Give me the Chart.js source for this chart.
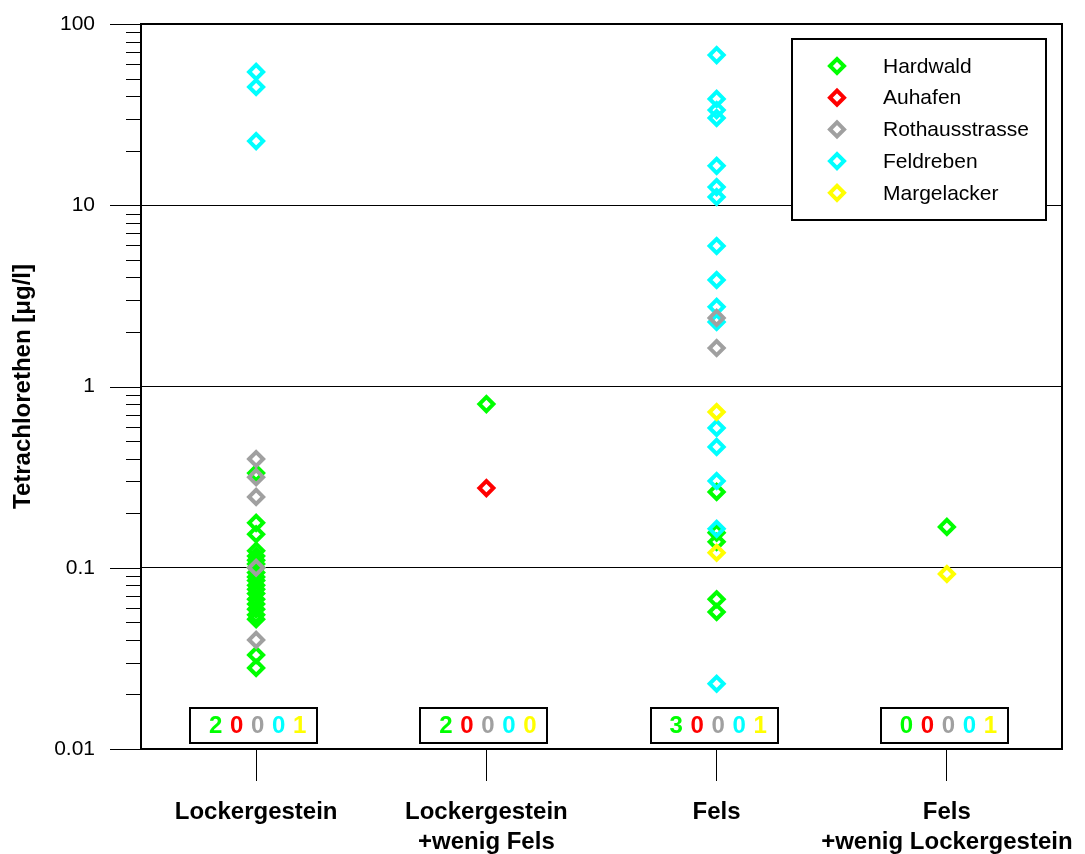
<!DOCTYPE html>
<html>
<head>
<meta charset="utf-8">
<title>Tetrachlorethen</title>
<script src="https://cdn.jsdelivr.net/npm/chart.js@4/dist/chart.umd.min.js"></script>
<style>
  html, body { margin: 0; padding: 0; background: #ffffff; }
  canvas { display: block; }
</style>
</head>
<body>
<canvas id="chart" width="1085" height="854"></canvas>
<script>
// Aquifer types on the x axis (multi-line labels)
const categories = [
  ['Lockergestein'],
  ['Lockergestein', '+wenig Fels'],
  ['Fels'],
  ['Fels', '+wenig Lockergestein']
];

const seriesNames = ['Hardwald', 'Auhafen', 'Rothausstrasse', 'Feldreben', 'Margelacker'];
const seriesColors = ['#00ff00', '#ff0000', '#a0a0a0', '#00ffff', '#ffff00'];

// Measured concentrations in µg/l, one list per aquifer type
const hardwald = [
  [0.333, 0.177, 0.153, 0.124, 0.116, 0.110, 0.105, 0.100, 0.094, 0.089, 0.085,
   0.080, 0.076, 0.072, 0.067, 0.063, 0.059, 0.055, 0.052, 0.033, 0.028],
  [0.80],
  [0.262, 0.156, 0.139, 0.067, 0.057],
  [0.168]
];
const auhafen = [[], [0.275], [], []];
const rothausstrasse = [
  [0.398, 0.316, 0.246, 0.100, 0.040],
  [],
  [2.39, 1.63],
  []
];
const feldreben = [
  [54.4, 44.9, 22.6],
  [],
  [67.4, 38.6, 33.5, 30.3, 16.5, 12.6, 11.1, 5.96, 3.87, 2.75, 2.27,
   0.59, 0.464, 0.301, 0.164, 0.0229],
  []
];
const margelacker = [[], [], [0.723, 0.121], [0.0924]];

// Counts shown in the boxes under each aquifer type
const countHardwald = [2, 2, 3, 0];
const countAuhafen = [0, 0, 0, 0];
const countRothausstrasse = [0, 0, 0, 0];
const countFeldreben = [0, 0, 0, 0];
const countMargelacker = [1, 0, 1, 1];

const yTickLabels = ['0.01', '0.1', '1', '10', '100'];
const yTitle = 'Tetrachlorethen [\u03bcg/l]';

const FONT = "'Liberation Sans', Arial, Helvetica, sans-serif";

const seriesValues = [hardwald, auhafen, rothausstrasse, feldreben, margelacker];
const seriesCounts = [countHardwald, countAuhafen, countRothausstrasse, countFeldreben, countMargelacker];
// stacking: yellow on top, then grey, cyan, red, green at the bottom
const drawOrder = [4, 3, 1, 2, 0];

const MARKER_RADIUS = 7;
const MARKER_STROKE = 4;

function toPoints(perCategory) {
  const pts = [];
  perCategory.forEach((vals, ci) => vals.forEach(v => pts.push({ x: ci, y: v })));
  return pts;
}

const datasets = seriesNames.map((name, i) => ({
  label: name,
  data: toPoints(seriesValues[i]),
  order: drawOrder[i],
  pointStyle: 'rectRot',
  pointRadius: MARKER_RADIUS,
  pointHoverRadius: MARKER_RADIUS,
  pointBorderWidth: MARKER_STROKE,
  borderColor: seriesColors[i],
  backgroundColor: 'rgba(0,0,0,0)',
  showLine: false
}));

const yMin = Number(yTickLabels[0]);
const yMax = Number(yTickLabels[yTickLabels.length - 1]);

// Log axis: minor tick marks, frame, legend and count boxes
const decorations = {
  id: 'decorations',
  afterDraw(chart) {
    const { ctx, chartArea: a, scales } = chart;
    const y = scales.y, x = scales.x;
    ctx.save();

    // y tick marks outside the plot (long for decades, short for the rest)
    ctx.strokeStyle = '#000';
    ctx.lineWidth = 1;
    y.ticks.forEach(t => {
      const py = Math.round(y.getPixelForValue(t.value)) + 0.5;
      const len = t.major ? 31 : 15;
      ctx.beginPath();
      ctx.moveTo(a.left - len, py);
      ctx.lineTo(a.left, py);
      ctx.stroke();
    });

    // top and right edges of the frame
    ctx.lineWidth = 2;
    ctx.beginPath();
    ctx.moveTo(a.left, a.top);
    ctx.lineTo(a.right, a.top);
    ctx.lineTo(a.right, a.bottom);
    ctx.stroke();

    // count boxes
    categories.forEach((c, ci) => {
      const cx = x.getPixelForValue(ci);
      const bx = Math.round(cx - 66), by = Math.round(a.bottom - 41);
      ctx.fillStyle = '#fff';
      ctx.fillRect(bx, by, 127, 35);
      ctx.strokeStyle = '#000';
      ctx.lineWidth = 2;
      ctx.strokeRect(bx, by, 127, 35);
      ctx.font = 'bold 24px ' + FONT;
      ctx.textAlign = 'center';
      ctx.textBaseline = 'middle';
      seriesCounts.forEach((cnt, si) => {
        ctx.fillStyle = seriesColors[si];
        ctx.fillText(String(cnt[ci]), cx + 1.5 + (si - 2) * 21, by + 18.5);
      });
    });

    // legend
    const lw = 254, lh = 181;
    const lx = Math.round(a.right - 16 - lw), ly = Math.round(a.top + 15);
    ctx.fillStyle = '#fff';
    ctx.fillRect(lx, ly, lw, lh);
    ctx.strokeStyle = '#000';
    ctx.lineWidth = 2;
    ctx.strokeRect(lx, ly, lw, lh);
    ctx.font = '21px ' + FONT;
    ctx.textAlign = 'left';
    ctx.textBaseline = 'middle';
    seriesNames.forEach((name, i) => {
      const ry = ly + 27 + i * 31.7;
      ctx.strokeStyle = seriesColors[i];
      ctx.fillStyle = 'rgba(0,0,0,0)';
      ctx.lineWidth = MARKER_STROKE;
      Chart.helpers.drawPoint(ctx, { pointStyle: 'rectRot', radius: MARKER_RADIUS, borderWidth: MARKER_STROKE }, lx + 45, ry);
      ctx.fillStyle = '#000';
      ctx.fillText(name, lx + 91, ry + 1);
    });

    ctx.restore();
  }
};

new Chart(document.getElementById('chart'), {
  type: 'scatter',
  data: { datasets },
  plugins: [decorations],
  options: {
    responsive: false,
    devicePixelRatio: 1,
    animation: false,
    events: [],
    layout: { padding: { top: 24, right: 23, bottom: 0, left: 0 } },
    plugins: { legend: { display: false }, tooltip: { enabled: false } },
    scales: {
      x: {
        type: 'linear',
        min: -0.5,
        max: categories.length - 0.5,
        afterBuildTicks(s) { s.ticks = categories.map((c, i) => ({ value: i })); },
        afterFit(s) { s.height = 105; s.paddingLeft = 0; s.paddingRight = 0; },
        ticks: {
          autoSkip: false,
          maxRotation: 0,
          padding: 16,
          color: '#000',
          font: { family: FONT, size: 24, weight: 'bold', lineHeight: 1.25 },
          callback: v => categories[v]
        },
        grid: { drawOnChartArea: false, drawTicks: true, tickLength: 32, color: '#000', lineWidth: 1 },
        border: { display: true, color: '#000', width: 2 }
      },
      y: {
        type: 'logarithmic',
        min: yMin,
        max: yMax,
        afterBuildTicks(s) {
          const ticks = [];
          const e0 = Math.round(Math.log10(yMin)), e1 = Math.round(Math.log10(yMax));
          for (let e = e0; e < e1; e++) {
            for (let m = 1; m <= 9; m++) {
              ticks.push({ value: parseFloat((m * Math.pow(10, e)).toPrecision(10)), major: m === 1 });
            }
          }
          ticks.push({ value: yMax, major: true });
          s.ticks = ticks;
        },
        afterFit(s) { s.width = 141; s.paddingTop = 0; s.paddingBottom = 0; },
        ticks: {
          autoSkip: false,
          padding: 46,
          color: '#000',
          font: { family: FONT, size: 21 },
          callback: v => {
            const lbl = yTickLabels.find(t => Math.abs(Number(t) - v) < 1e-12);
            return lbl === undefined ? '' : lbl;
          }
        },
        grid: {
          drawTicks: false,
          lineWidth: 1,
          color: c => (c.tick && c.tick.major ? '#000' : 'rgba(0,0,0,0)')
        },
        border: { display: true, color: '#000', width: 2 },
        title: {
          display: true,
          text: yTitle,
          color: '#000',
          padding: { top: 9, bottom: 0 },
          font: { family: FONT, size: 24, weight: 'bold' }
        }
      }
    }
  }
});
</script>
</body>
</html>
